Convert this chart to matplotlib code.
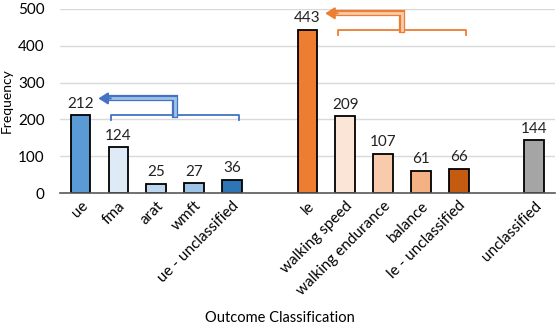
import matplotlib.pyplot as plt

plt.rcParams['font.family'] = ['Lato', 'DejaVu Sans']

# data
ue_cats = ['ue', 'fma', 'arat', 'wmft', 'ue - unclassified']
ue_vals = [212, 124, 25, 27, 36]
ue_cols = ['#5B9BD5', '#DEEBF7', '#BDD7EE', '#9DC3E6', '#2E75B6']

le_cats = ['le', 'walking speed', 'walking endurance', 'balance', 'le - unclassified']
le_vals = [443, 209, 107, 61, 66]
le_cols = ['#ED7D31', '#FBE5D6', '#F8CBAD', '#F4B183', '#C55A11']

un_cats = ['unclassified']
un_vals = [144]
un_cols = ['#A5A5A5']

groups = [(ue_cats, ue_vals, ue_cols), (le_cats, le_vals, le_cols), (un_cats, un_vals, un_cols)]

fig = plt.figure(figsize=(5.59, 3.29), dpi=100)
ax = fig.add_axes([0.107, 0.413, 0.886, 0.56])

xs, labels = [], []
pos = 0
group_x = []
for cats, vals, cols in groups:
    gx = []
    for c, v, col in zip(cats, vals, cols):
        ax.bar(pos, v, width=0.52, color=col, edgecolor='black', linewidth=1.3, zorder=3)
        ax.text(pos, v + 12, str(v), ha='center', va='bottom', fontsize=11, color='#222222', zorder=4)
        xs.append(pos)
        labels.append(c)
        gx.append(pos)
        pos += 1
    group_x.append(gx)
    pos += 1

# brackets with arrows
def bracket(gx, vals, color, light):
    x0 = gx[1] - 0.2
    x1 = gx[-1] + 0.2
    y = vals[0]
    ax.plot([x0, x0, x1, x1], [y - 14, y, y, y - 14], color=color, lw=1.3, zorder=4, clip_on=False)
    xm = (x0 + x1) / 2
    ytop = y + 45
    ax.plot([xm, xm, gx[0] + 0.75], [y, ytop, ytop], color=color, lw=4.5, zorder=4,
            solid_joinstyle='miter', clip_on=False)
    ax.plot([xm, xm, gx[0] + 0.75], [y, ytop, ytop], color=light, lw=2, zorder=5,
            solid_joinstyle='miter', clip_on=False)
    ax.annotate('', xy=(gx[0] + 0.47, ytop), xytext=(gx[0] + 0.8, ytop),
                arrowprops=dict(arrowstyle='-|>,head_length=0.55,head_width=0.35',
                                color=color, lw=1.5, shrinkA=0, shrinkB=0),
                zorder=6, annotation_clip=False)

bracket(group_x[0], ue_vals, '#4472C4', '#9DC3E6')
bracket(group_x[1], le_vals, '#ED7D31', '#F8CBAD')

ax.set_ylim(0, 500)
ax.set_xlim(-0.55, pos - 1.45)
ax.set_yticks(range(0, 501, 100))
ax.set_xticks(xs)
ax.set_xticklabels(labels, rotation=45, ha='right', rotation_mode='anchor', fontsize=11)
ax.tick_params(axis='y', labelsize=11, length=0, pad=11)
ax.tick_params(axis='x', length=0, pad=4)
ax.yaxis.grid(True, color='#D9D9D9', lw=1, zorder=0)
for s in ['left', 'right', 'top']:
    ax.spines[s].set_visible(False)
ax.spines['bottom'].set_color('#595959')
ax.spines['bottom'].set_linewidth(1.2)
ax.spines['bottom'].set_zorder(5)
ax.set_ylabel('Frequency', fontsize=10)
ax.yaxis.set_label_coords(-0.095, 0.5)
fig.text(0.5, 0.02, 'Outcome Classification', ha='center', fontsize=10.5)

fig.savefig('out.png', dpi=100)
